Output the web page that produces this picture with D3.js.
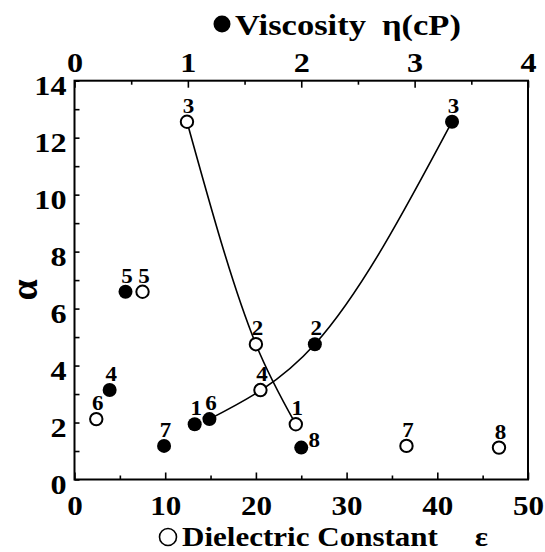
<!DOCTYPE html>
<html>
<head>
<meta charset="utf-8">
<script src="https://cdn.jsdelivr.net/npm/d3@7"></script>
<style>
  html, body { margin: 0; padding: 0; background: #fff; }
  svg { display: block; }
</style>
</head>
<body>
<svg id="chart" width="545" height="552"></svg>
<script>
// ---- data ----
const solvents   = ["1", "2", "3", "4", "5", "6", "7", "8"];
const alpha      = [1.94, 4.75, 12.56, 3.14, 6.59, 2.12, 1.18, 1.12];
const dielectric = [24.4, 20.0, 12.4, 20.5, 7.5, 2.4, 36.6, 46.8];
const viscosity  = [1.06, 2.12, 3.33, 0.31, 0.45, 1.19, 0.79, 2.0];
// solvents joined by the guide curves
const dielectricCurve = ["3", "2", "1"];
const viscosityCurve  = ["6", "2", "3"];
// axes
const epsTicks      = [0, 10, 20, 30, 40, 50];
const epsMinorTicks = [5, 15, 25, 35, 45];
const etaTicks      = [0, 1, 2, 3, 4];
const etaMinorTicks = [0.5, 1.5, 2.5, 3.5];
const alphaTicks      = [0, 2, 4, 6, 8, 10, 12, 14];
const alphaMinorTicks = [1, 3, 5, 7, 9, 11, 13];
const titleTopName    = "Viscosity";
const titleTopUnit    = "η(cP)";
const titleBottomName = "Dielectric Constant";
const titleBottomSym  = "ε";
const titleLeft       = "α";

// ---- layout ----
const L = 74.5, R = 528, T = 80.7, B = 479.5;
const FONT = "'Liberation Serif', 'Times New Roman', serif";
const STRETCH = 1.15;

const svg = d3.select("#chart");
svg.append("rect").attr("width", 545).attr("height", 552).attr("fill", "#fff");

const xEps = d3.scaleLinear().domain([0, 50]).range([L, R]);
const xEta = d3.scaleLinear().domain([0, 4]).range([L, R]);
const y = d3.scaleLinear().domain([0, 14]).range([B, T]);

const rows = solvents.map((s, i) => ({ s, a: alpha[i], e: dielectric[i], v: viscosity[i] }));
const bySolvent = new Map(rows.map(r => [r.s, r]));

function styleTicks(g) {
  g.select(".domain").remove();
  g.selectAll(".tick line").attr("stroke", "#000").attr("stroke-width", 1.6);
}
function styleLabels(sel, tr, anchor, size) {
  sel.attr("x", null).attr("y", null).attr("dy", null)
    .attr("text-anchor", anchor)
    .attr("transform", `${tr} scale(${STRETCH},1)`)
    .attr("font-family", FONT).attr("font-weight", "bold").attr("font-size", size).attr("fill", "#000");
}

// bottom axis (dielectric constant)
const gB = svg.append("g").attr("transform", `translate(0,${B})`)
  .call(d3.axisBottom(xEps).tickValues(epsTicks).tickSize(-7).tickFormat(d3.format("d")));
styleTicks(gB);
styleLabels(gB.selectAll(".tick text"), "translate(0,35.5)", "middle", 27);
svg.append("g").attr("transform", `translate(0,${B})`)
  .call(d3.axisBottom(xEps).tickValues(epsMinorTicks).tickSize(-4).tickFormat(""))
  .call(styleTicks);

// top axis (viscosity)
const gT = svg.append("g").attr("transform", `translate(0,${T})`)
  .call(d3.axisTop(xEta).tickValues(etaTicks).tickSize(-7).tickFormat(d3.format("d")));
styleTicks(gT);
styleLabels(gT.selectAll(".tick text"), "translate(0,-9)", "middle", 28);
svg.append("g").attr("transform", `translate(0,${T})`)
  .call(d3.axisTop(xEta).tickValues(etaMinorTicks).tickSize(-4).tickFormat(""))
  .call(styleTicks);

// left axis (alpha)
const gL = svg.append("g").attr("transform", `translate(${L},0)`)
  .call(d3.axisLeft(y).tickValues(alphaTicks).tickSize(-5).tickFormat(d3.format("d")));
styleTicks(gL);
styleLabels(gL.selectAll(".tick text"), "translate(-8,14)", "end", 28);
svg.append("g").attr("transform", `translate(${L},0)`)
  .call(d3.axisLeft(y).tickValues(alphaMinorTicks).tickSize(-5).tickFormat(""))
  .call(styleTicks);

// frame
svg.append("rect")
  .attr("x", L).attr("y", T).attr("width", R - L).attr("height", B - T)
  .attr("fill", "none").attr("stroke", "#000").attr("stroke-width", 2);

// guide curves
const lineEps = d3.line().x(d => xEps(d.e)).y(d => y(d.a)).curve(d3.curveMonotoneX);
const lineEta = d3.line().x(d => xEta(d.v)).y(d => y(d.a)).curve(d3.curveMonotoneX);
svg.append("path").datum(dielectricCurve.map(s => bySolvent.get(s)))
  .attr("d", lineEps).attr("fill", "none").attr("stroke", "#000").attr("stroke-width", 1.6);
svg.append("path").datum(viscosityCurve.map(s => bySolvent.get(s)))
  .attr("d", lineEta).attr("fill", "none").attr("stroke", "#000").attr("stroke-width", 1.6);

// markers
svg.append("g").selectAll("circle").data(rows).join("circle")
  .attr("cx", d => xEps(d.e)).attr("cy", d => y(d.a)).attr("r", 6.2)
  .attr("fill", "#fff").attr("stroke", "#000").attr("stroke-width", 2);
svg.append("g").selectAll("circle").data(rows).join("circle")
  .attr("cx", d => xEta(d.v)).attr("cy", d => y(d.a)).attr("r", 7)
  .attr("fill", "#000");

// point labels
function labelPos(d, filled) {
  const cx = filled ? xEta(d.v) : xEps(d.e);
  const cy = y(d.a);
  if (filled && d.s === "8") return [cx + 13, cy - 1];
  return [cx + 1.5, cy - 9];
}
svg.append("g").selectAll("text").data(rows.flatMap(d => [[d, false], [d, true]])).join("text")
  .attr("transform", ([d, f]) => { const p = labelPos(d, f); return `translate(${p[0]},${p[1]}) scale(${STRETCH},1)`; })
  .attr("text-anchor", "middle")
  .attr("font-family", FONT).attr("font-weight", "bold").attr("font-size", 20)
  .text(([d]) => d.s);

// titles with legend symbols
svg.append("circle").attr("cx", 222).attr("cy", 24).attr("r", 8.5).attr("fill", "#000");
const tt = svg.append("text").attr("transform", `translate(235,35) scale(${STRETCH},1)`)
  .attr("font-family", FONT).attr("font-weight", "bold").attr("font-size", 30);
tt.append("tspan").text(titleTopName);
tt.append("tspan").attr("dx", 14).text(titleTopUnit);

svg.append("circle").attr("cx", 168).attr("cy", 537).attr("r", 8.5)
  .attr("fill", "#fff").attr("stroke", "#000").attr("stroke-width", 1.6);
const tb = svg.append("text").attr("transform", `translate(182,546) scale(${STRETCH},1)`)
  .attr("font-family", FONT).attr("font-weight", "bold").attr("font-size", 27);
tb.append("tspan").text(titleBottomName);
tb.append("tspan").attr("dx", 32).text(titleBottomSym);

svg.append("text").attr("transform", "translate(37,290) rotate(-90)")
  .attr("text-anchor", "middle")
  .attr("font-family", FONT).attr("font-weight", "bold").attr("font-size", 38)
  .text(titleLeft);
</script>
</body>
</html>
